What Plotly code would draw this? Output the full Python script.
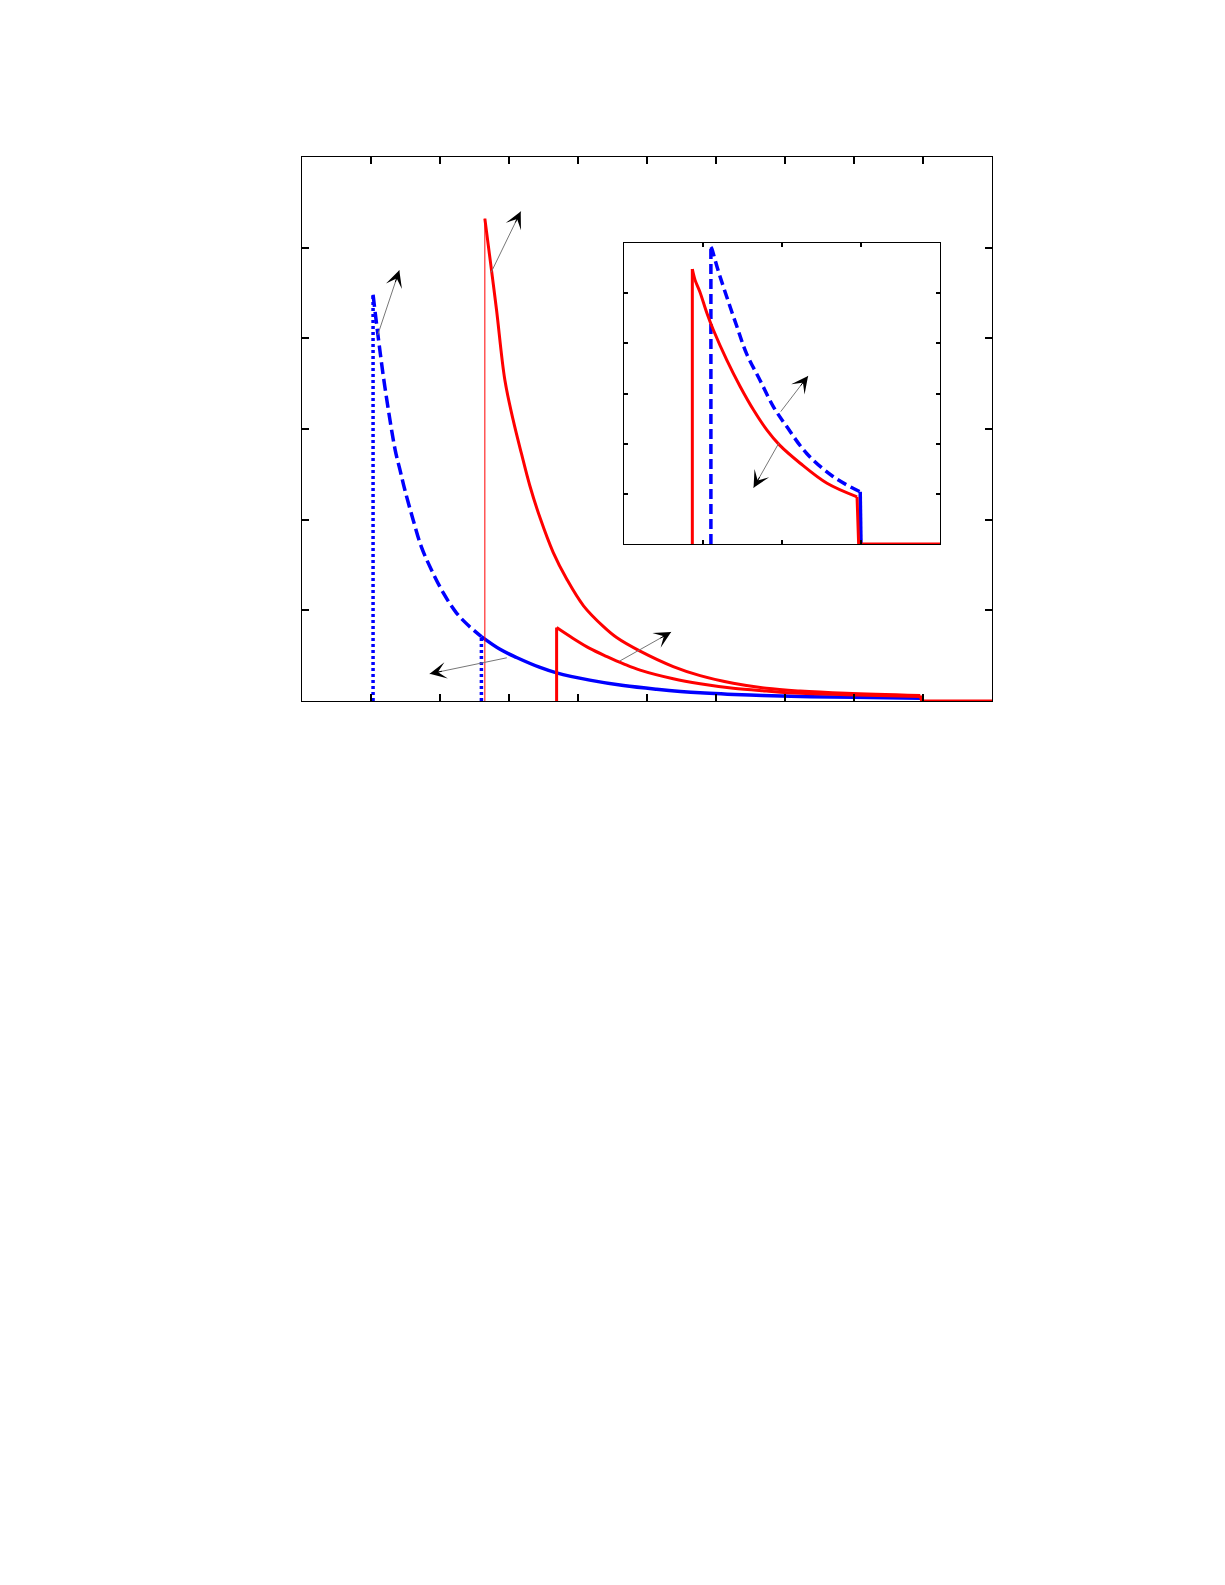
import math
import plotly.graph_objects as go

# ---------------- main panel data ----------------
blue_dashed_x = [1.03, 1.11, 1.20, 1.35, 1.42, 1.49, 1.61, 1.73, 1.88, 2.05, 2.24, 2.43, 2.60]
blue_dashed_y = [4.48, 3.98, 3.47, 2.77, 2.55, 2.33, 2.00, 1.70, 1.44, 1.19, 0.97, 0.82, 0.71]

blue_solid_x = [2.60, 2.87, 3.11, 3.45, 3.69, 4.17, 4.66, 5.14, 5.77, 6.49, 7.22, 8.00, 8.98]
blue_solid_y = [0.71, 0.57, 0.48, 0.37, 0.31, 0.23, 0.17, 0.13, 0.09, 0.065, 0.05, 0.04, 0.03]

blue_dot1_x = [1.03, 1.03]
blue_dot1_y = [0.0, 4.48]
blue_dot2_x = [2.60, 2.60]
blue_dot2_y = [0.0, 0.71]

red_upper_x = [2.65, 2.75, 2.82, 2.94, 3.06, 3.18, 3.30, 3.45, 3.64, 3.84, 4.08, 4.37,
               4.56, 4.90, 5.38, 5.77, 6.25, 6.73, 7.22, 7.89, 8.96]
red_upper_y = [5.32, 4.73, 4.31, 3.54, 3.10, 2.73, 2.38, 2.02, 1.64, 1.34, 1.05, 0.82,
               0.70, 0.55, 0.38, 0.28, 0.195, 0.14, 0.11, 0.085, 0.06]

red_thin_x = [2.65, 2.65]
red_thin_y = [0.0, 5.32]

red_lower_x = [3.69, 3.93, 4.17, 4.42, 4.66, 4.90, 5.38, 5.77, 6.25, 6.73, 7.22, 7.89, 8.96]
red_lower_y = [0.81, 0.69, 0.58, 0.49, 0.41, 0.34, 0.245, 0.19, 0.14, 0.11, 0.085, 0.07, 0.05]

red_lower_rise_x = [3.69, 3.69]
red_lower_rise_y = [0.0, 0.81]

red_tail_x = [8.96, 8.98, 10.0]
red_tail_y = [0.06, 0.0, 0.0]

# arrows: (tail_x, tail_y, head_x, head_y)
main_arrows = [
    (1.09, 4.02, 1.41, 4.75),
    (2.73, 4.71, 3.17, 5.40),
    (2.99, 0.48, 1.85, 0.30),
    (4.58, 0.43, 5.35, 0.76),
]

# ---------------- inset data ----------------
in_blue_rise_x = [1.10, 1.10]
in_blue_rise_y = [0.0, 5.92]
in_blue_x = [1.10, 1.11, 1.19, 1.30, 1.43, 1.55, 1.72, 1.89, 2.06, 2.31, 2.65, 2.99]
in_blue_y = [5.92, 5.89, 5.46, 4.93, 4.33, 3.80, 3.27, 2.74, 2.34, 1.81, 1.34, 1.04]
in_blue_drop_x = [2.99, 3.00]
in_blue_drop_y = [1.04, 0.0]

in_red_rise_x = [0.865, 0.865]
in_red_rise_y = [0.0, 5.48]
in_red_x = [0.865, 0.90, 0.96, 1.05, 1.13, 1.30, 1.47, 1.64, 1.81, 1.97, 2.23, 2.57, 2.95]
in_red_y = [5.48, 5.26, 5.03, 4.60, 4.27, 3.67, 3.14, 2.67, 2.27, 1.97, 1.61, 1.21, 0.94]
in_red_drop_x = [2.95, 2.97, 4.0]
in_red_drop_y = [0.94, 0.0, 0.0]

inset_arrows = [
    (1.97, 2.61, 2.33, 3.35),
    (1.97, 2.04, 1.64, 1.12),
]

main_xticks = list(range(0, 11))
main_yticks = list(range(0, 7))
inset_xticks = list(range(0, 5))
inset_yticks = list(range(0, 7))

BLUE = "#0000ff"
RED = "#ff0000"

fig = go.Figure()

def line(x, y, color, width, dash="solid", xa="x", ya="y", spline=False):
    ln = dict(color=color, width=width, dash=dash)
    if spline:
        ln["shape"] = "spline"
        ln["smoothing"] = 1.0
    fig.add_trace(go.Scatter(x=x, y=y, mode="lines", xaxis=xa, yaxis=ya, line=ln,
                             showlegend=False, hoverinfo="skip"))

# main panel
line(blue_dot1_x, blue_dot1_y, BLUE, 3.5, "3px,3px")
line(blue_dot2_x, blue_dot2_y, BLUE, 3.5, "3px,3px")
line(blue_dashed_x, blue_dashed_y, BLUE, 3.5, "12px,5px", spline=True)
line(blue_solid_x, blue_solid_y, BLUE, 3.5, spline=True)
line(red_thin_x, red_thin_y, RED, 1)
line(red_upper_x, red_upper_y, RED, 3, spline=True)
line(red_lower_rise_x, red_lower_rise_y, RED, 3)
line(red_lower_x, red_lower_y, RED, 3, spline=True)
line(red_tail_x, red_tail_y, RED, 3)

# inset
line(in_blue_rise_x, in_blue_rise_y, BLUE, 3.5, "10px,5px", "x2", "y2")
line(in_blue_x, in_blue_y, BLUE, 3.5, "10px,5px", "x2", "y2", spline=True)
line(in_blue_drop_x, in_blue_drop_y, BLUE, 3.5, "solid", "x2", "y2")
line(in_red_rise_x, in_red_rise_y, RED, 3, "solid", "x2", "y2")
line(in_red_x, in_red_y, RED, 3, "solid", "x2", "y2", spline=True)
line(in_red_drop_x, in_red_drop_y, RED, 3, "solid", "x2", "y2")

W, H = 1225, 1585
OFF = 8  # page body margin
def dom_x(a, b):
    return [(a - OFF) / W, (b - OFF) / W]
def dom_y(top, bottom):
    return [1 - (bottom - OFF) / H, 1 - (top - OFF) / H]

main_dom_x = dom_x(302, 992)
main_dom_y = dom_y(157, 701)
in_dom_x = dom_x(624, 940)
in_dom_y = dom_y(243, 544)

# pixel scales for computing arrowhead segments
scales = {
    "x": (992 - 302) / 10.0, "y": (701 - 157) / 6.0,
    "x2": (940 - 624) / 4.0, "y2": (544 - 243) / 6.0,
}

annotations = []

def add_arrow(t, xr, yr):
    tx, ty, hx, hy = t
    annotations.append(dict(x=hx, y=hy, ax=tx, ay=ty, xref=xr, yref=yr, axref=xr, ayref=yr,
                            text="", showarrow=True, arrowhead=0, arrowwidth=1,
                            arrowcolor="#777777"))
    sx, sy = scales[xr], scales[yr]
    dxp, dyp = (hx - tx) * sx, (hy - ty) * sy
    L = math.hypot(dxp, dyp)
    seg = 14.0
    bx = hx - (dxp / L) * seg / sx
    by = hy - (dyp / L) * seg / sy
    annotations.append(dict(x=hx, y=hy, ax=bx, ay=by,
                            xref=xr, yref=yr, axref=xr, ayref=yr,
                            text="", showarrow=True, arrowhead=3, arrowwidth=1,
                            arrowsize=2.8, arrowcolor="#000000"))

for a in main_arrows:
    add_arrow(a, "x", "y")
for a in inset_arrows:
    add_arrow(a, "x2", "y2")

axis_common = dict(showgrid=False, zeroline=False, showline=True, linecolor="black",
                   linewidth=1, mirror="allticks", ticks="inside", tickcolor="black",
                   showticklabels=False, tickwidth=1.5)

fig.update_layout(
    width=W, height=H,
    margin=dict(l=0, r=0, t=0, b=0),
    paper_bgcolor="white", plot_bgcolor="white",
    showlegend=False,
    xaxis=dict(domain=main_dom_x, range=[0, 10], tickvals=main_xticks, ticklen=7,
               anchor="y", **axis_common),
    yaxis=dict(domain=main_dom_y, range=[0, 6], tickvals=main_yticks, ticklen=7,
               anchor="x", **axis_common),
    xaxis2=dict(domain=in_dom_x, range=[0, 4], tickvals=inset_xticks, ticklen=4,
                anchor="y2", **axis_common),
    yaxis2=dict(domain=in_dom_y, range=[0, 6], tickvals=inset_yticks, ticklen=4,
                anchor="x2", **axis_common),
    annotations=annotations,
)

fig.write_html("out.html")
